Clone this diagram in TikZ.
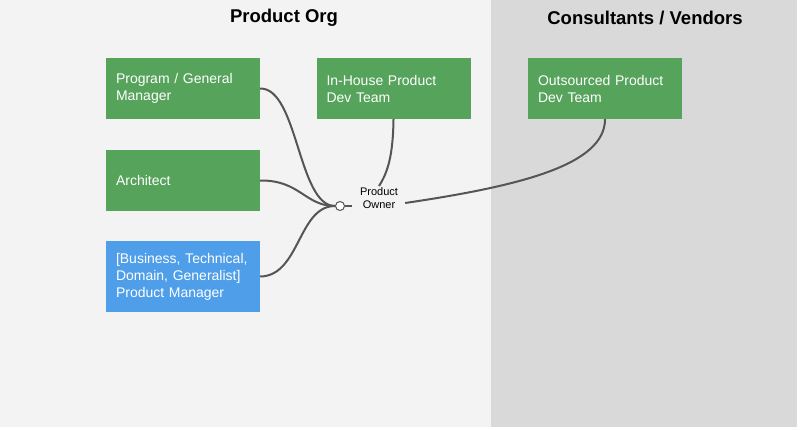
\documentclass[tikz,border=0pt]{standalone}
\usepackage{fontspec}
\setmainfont{Liberation Sans}
\begin{document}
\begin{tikzpicture}[x=1pt,y=-1pt,
  panelL/.style={fill=leftbg,draw=none},
  panelR/.style={fill=rightbg,draw=none},
  rolebox/.style={rectangle,fill=boxgreen,draw=none,text=white,minimum width=154pt,inner xsep=10pt,text width=134pt,align=left,font=\fontsize{14}{17}\selectfont},
  bluebox/.style={rolebox,fill=boxblue},
  title/.style={font=\bfseries\fontsize{18.5}{20}\selectfont,text=black},
  link/.style={draw=linegray,line width=2pt},
  po/.style={font=\fontsize{11}{13.5}\selectfont,align=center,inner sep=1pt}
]
\definecolor{leftbg}{HTML}{F3F3F3}
\definecolor{rightbg}{HTML}{D9D9D9}
\definecolor{boxgreen}{HTML}{56A35B}
\definecolor{boxblue}{HTML}{4E9EE9}
\definecolor{linegray}{HTML}{555555}
\useasboundingbox (0,0) rectangle (800,429);
\fill[white] (0,0) rectangle (800,429);
\path[panelL] (0,0) rectangle (491,427);
\path[panelR] (491,0) rectangle (797,427);
\node[title] (t1) at (284,18) {Product Org};
\node[title] (t2) at (645,18) {Consultants / Vendors};

\node[rolebox,minimum height=61pt] (pgm) at (183,88.5) {Program / General\\Manager};
\node[rolebox,minimum height=61pt] (inh) at (393.5,88.5) {In-House Product\\Dev Team};
\node[rolebox,minimum height=61pt] (arch) at (183,180.5) {Architect};
\node[bluebox,minimum height=71pt] (pm) at (183,276.5) {[Business, Technical,\\Domain, Generalist]\\Product Manager};
\node[rolebox,minimum height=61pt] (out) at (605,88.5) {Outsourced Product\\Dev Team};

\node[circle,draw=linegray,fill=white,line width=1pt,minimum size=9pt,inner sep=0pt] (c) at (340,206) {};
\node[po] (own) at (379,198) {Product\\Owner};

\draw[link] (pgm.east) .. controls (298,88) and (298,206) .. (c.west);
\draw[link] (arch.east) .. controls (300,180) and (305,206) .. (c.west);
\draw[link] (pm.east) .. controls (300,276) and (298,206) .. (c.west);
\draw[link] (c.east) -- (352,206);
\draw[link] (inh.south) .. controls (393,155) and (388,172) .. (own.north);
\draw[link] (own.east) ++(6,5) coordinate (oe) (oe) .. controls (520,186) and (605,165) .. (out.south);
\end{tikzpicture}
\end{document}
